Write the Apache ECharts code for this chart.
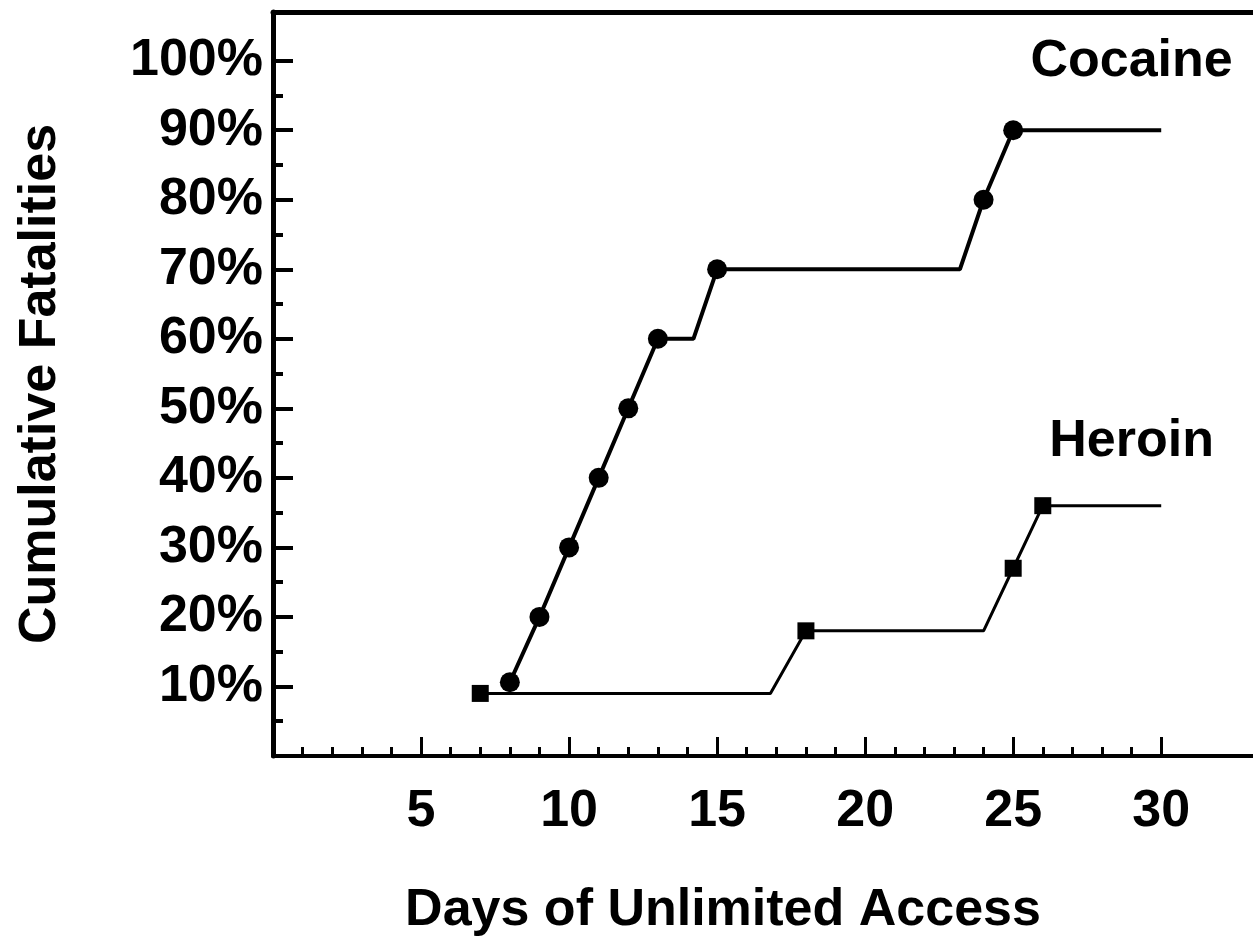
<!DOCTYPE html>
<html>
<head>
<meta charset="utf-8">
<title>Cumulative Fatalities</title>
<script src="https://cdn.jsdelivr.net/npm/echarts@6/dist/echarts.min.js"></script>
<style>
  html, body { margin: 0; padding: 0; background: #fff; }
  #main { width: 1253px; height: 939px; }
</style>
</head>
<body>
<div id="main"></div>
<script>
// data
var cocaineDays = [8, 9, 10, 11, 12, 13, 14.2, 15, 23.2, 24, 25, 30];
var cocainePct  = [10.6, 20, 30, 40, 50, 60, 60, 70, 70, 80, 90, 90];
var cocaineDot  = [1, 1, 1, 1, 1, 1, 0, 1, 0, 1, 1, 0];

var heroinDays = [7, 16.8, 18, 24, 25, 26, 30];
var heroinPct  = [9, 9, 18, 18, 27, 36, 36];
var heroinDot  = [1, 0, 1, 0, 1, 1, 0];

var xMajorTicks = [5, 10, 15, 20, 25, 30];
var xMinorTicks = [1, 2, 3, 4, 6, 7, 8, 9, 11, 12, 13, 14, 16, 17, 18, 19, 21, 22, 23, 24, 26, 27, 28, 29];
var yMajorTicks = [10, 20, 30, 40, 50, 60, 70, 80, 90, 100];
var yMinorTicks = [5, 15, 25, 35, 45, 55, 65, 75, 85, 95];

var FONT = '"Liberation Sans", Arial, sans-serif';

function build(days, pct, dots, sym, size) {
  return days.map(function (d, i) {
    return {
      value: [d, pct[i]],
      symbol: dots[i] ? sym : 'none',
      symbolSize: size
    };
  });
}

var myChart = echarts.init(document.getElementById('main'));

var textStyle = { color: '#000', fontFamily: FONT, fontSize: 52, fontWeight: 'bold' };

var option = {
  backgroundColor: '#fff',
  animation: false,
  grid: { left: 273, top: 12, right: 0, bottom: 183, containLabel: false, outerBoundsMode: 'none' },
  xAxis: [
    {
      type: 'value', min: 0, max: 33.1, position: 'bottom',
      axisLine: { lineStyle: { color: '#000', width: 4 } },
      axisTick: { inside: true, length: 19, customValues: xMajorTicks, lineStyle: { color: '#000', width: 3 } },
      axisLabel: Object.assign({ customValues: xMajorTicks, margin: 30 }, textStyle),
      splitLine: { show: false }
    },
    {
      type: 'value', min: 0, max: 33.1, position: 'bottom',
      axisLine: { show: false },
      axisTick: { inside: true, length: 9, customValues: xMinorTicks, lineStyle: { color: '#000', width: 3 } },
      axisLabel: { show: false },
      splitLine: { show: false }
    },
    {
      type: 'value', min: 0, max: 33.1, position: 'top',
      axisLine: { lineStyle: { color: '#000', width: 5 } },
      axisTick: { show: false },
      axisLabel: { show: false },
      splitLine: { show: false }
    }
  ],
  yAxis: [
    {
      type: 'value', min: 0, max: 107, position: 'left',
      name: 'Cumulative Fatalities', nameLocation: 'middle', nameGap: 206,
      nameTextStyle: textStyle,
      axisLine: { lineStyle: { color: '#000', width: 5 } },
      axisTick: { inside: true, length: 20, customValues: yMajorTicks, lineStyle: { color: '#000', width: 4 } },
      axisLabel: Object.assign({ customValues: yMajorTicks, margin: 10, formatter: '{value}%' }, textStyle),
      splitLine: { show: false }
    },
    {
      type: 'value', min: 0, max: 107, position: 'left',
      axisLine: { show: false },
      axisTick: { inside: true, length: 10, customValues: yMinorTicks, lineStyle: { color: '#000', width: 4 } },
      axisLabel: { show: false },
      splitLine: { show: false }
    }
  ],
  graphic: [{
    type: 'text', x: 723, y: 911,
    style: {
      text: 'Days of Unlimited Access', fill: '#000',
      font: 'bold 52px ' + FONT, align: 'center', verticalAlign: 'middle'
    }
  }],
  series: [
    {
      name: 'Cocaine', type: 'line',
      data: build(cocaineDays, cocainePct, cocaineDot, 'circle', 20),
      lineStyle: { color: '#000', width: 4 },
      itemStyle: { color: '#000' },
      markPoint: {
        symbol: 'circle', symbolSize: 0,
        data: [{ coord: [29, 90] }],
        label: Object.assign({ show: true, formatter: 'Cocaine', offset: [0, -69] }, textStyle)
      }
    },
    {
      name: 'Heroin', type: 'line',
      data: build(heroinDays, heroinPct, heroinDot, 'rect', 17),
      lineStyle: { color: '#000', width: 3 },
      itemStyle: { color: '#000' },
      markPoint: {
        symbol: 'circle', symbolSize: 0,
        data: [{ coord: [29, 36] }],
        label: Object.assign({ show: true, formatter: 'Heroin', offset: [0, -64] }, textStyle)
      }
    }
  ]
};

myChart.setOption(option);
</script>
</body>
</html>
